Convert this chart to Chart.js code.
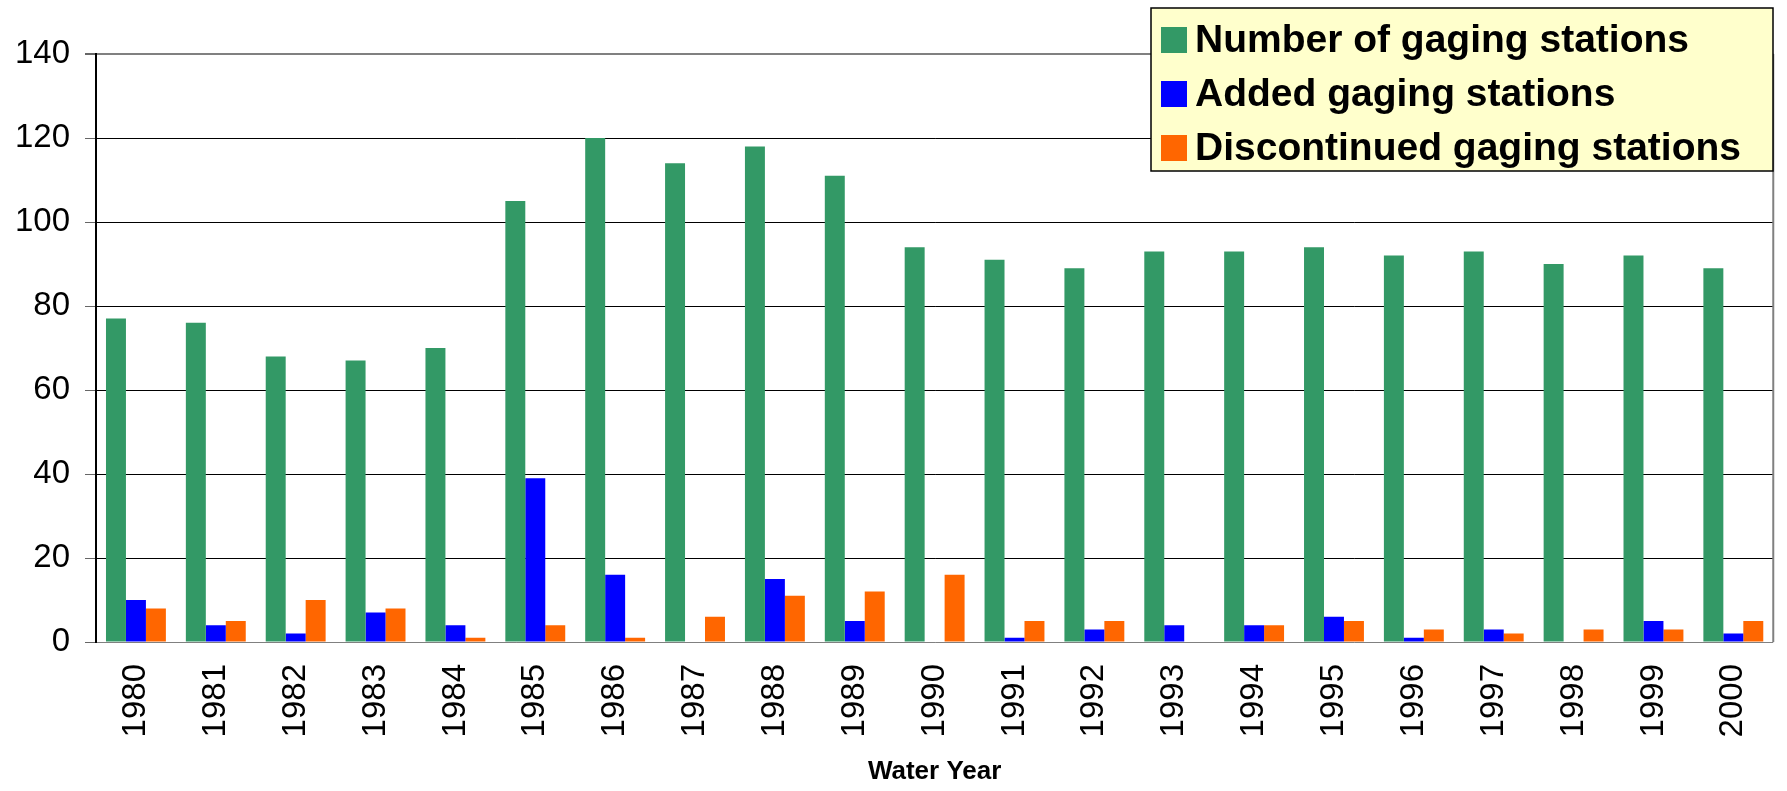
<!DOCTYPE html>
<html>
<head>
<meta charset="utf-8">
<script src="https://cdn.jsdelivr.net/npm/chart.js@4"></script>
<style>
body { margin: 0; background: #fff; }
#wrap { width: 1787px; height: 791px; }
</style>
</head>
<body>
<div id="wrap"><canvas id="gaging" width="1787" height="791"></canvas></div>
<script>
/* DATOS */

const years = ['1980','1981','1982','1983','1984','1985','1986','1987','1988','1989','1990',
'1991','1992','1993','1994','1995','1996','1997','1998','1999','2000'];

const numberStations = [77,76,68,67,70,105,120,114,118,111,94,91,89,93,93,94,92,93,90,92,89];

const addedStations = [10,4,2,7,4,39,16,0,15,5,0,1,3,4,4,6,1,3,0,5,2];

const discontinuedStations = [8,5,10,8,1,4,1,6,11,12,16,5,5,0,4,5,3,2,3,3,5];

const yTicks = [0,20,40,60,80,100,120,140];

const xTitle = 'Water Year';


/* LEYENDA EN CAJA */

const boxLegend = {
  id: 'boxLegend',
  afterDraw(chart) {
    const c = chart.ctx;
    const a = chart.chartArea;
    // borde derecho del area
    c.save();
    c.strokeStyle = '#808080';
    c.lineWidth = 2;
    c.beginPath();
    c.moveTo(a.right, a.top);
    c.lineTo(a.right, a.bottom);
    c.stroke();

    const x = 1151, y = 8, w = 622, h = 163;
    c.fillStyle = '#FFFFCC';
    c.fillRect(x, y, w, h);
    c.strokeStyle = '#000';
    c.lineWidth = 1.5;
    c.strokeRect(x, y, w, h);

    c.font = 'bold 39px "Liberation Sans", Arial, sans-serif';
    c.textBaseline = 'middle';
    chart.data.datasets.forEach(function(ds, i) {
      const cy = y + 32 + i * 54;
      c.fillStyle = ds.backgroundColor;
      c.fillRect(x + 10, cy - 13, 26, 26);
      c.fillStyle = '#000';
      c.fillText(ds.label, x + 44, cy + 1);
    });
    c.restore();
  }
};


/* GRAFICA */

const ctx = document.getElementById('gaging');

new Chart(ctx, {
  type: 'bar',
  data: {
    labels: years,
    datasets: [
      { label: 'Number of gaging stations', data: numberStations, backgroundColor: '#339966' },
      { label: 'Added gaging stations', data: addedStations, backgroundColor: '#0000FF' },
      { label: 'Discontinued gaging stations', data: discontinuedStations, backgroundColor: '#FF6600' }
    ]
  },
  options: {
    responsive: false,
    animation: false,
    layout: { padding: { top: 54, right: 3, left: 0, bottom: 0 } },
    datasets: { bar: { categoryPercentage: 0.75, barPercentage: 1.0 } },
    plugins: {
      legend: { display: false },
      tooltip: { enabled: false }
    },
    scales: {
      x: {
        grid: { display: false },
        border: { display: false },
        ticks: {
          minRotation: 90,
          maxRotation: 90,
          padding: 14,
          color: '#000',
          font: { family: '"Liberation Sans", Arial, sans-serif', size: 33 }
        },
        title: {
          display: true,
          text: xTitle,
          color: '#000',
          padding: { top: 0, bottom: 4 },
          font: { family: '"Liberation Sans", Arial, sans-serif', size: 26, weight: 'bold' }
        },
        afterFit(scale) { scale.height = 149; }
      },
      y: {
        min: 0,
        max: 140,
        afterBuildTicks(scale) { scale.ticks = yTicks.map(v => ({ value: v })); },
        grid: {
          color: ctx => ctx.index === 0 || ctx.index === yTicks.length - 1 ? '#808080' : '#000',
          lineWidth: ctx => ctx.index === yTicks.length - 1 ? 2 : 1,
          tickLength: 11,
          tickColor: '#666'
        },
        border: { color: '#000', width: 2 },
        ticks: {
          padding: 15,
          color: '#000',
          font: { family: '"Liberation Sans", Arial, sans-serif', size: 33 }
        },
        afterFit(scale) { scale.width = 96; }
      }
    }
  },
  plugins: [boxLegend]
});
</script>
</body>
</html>
